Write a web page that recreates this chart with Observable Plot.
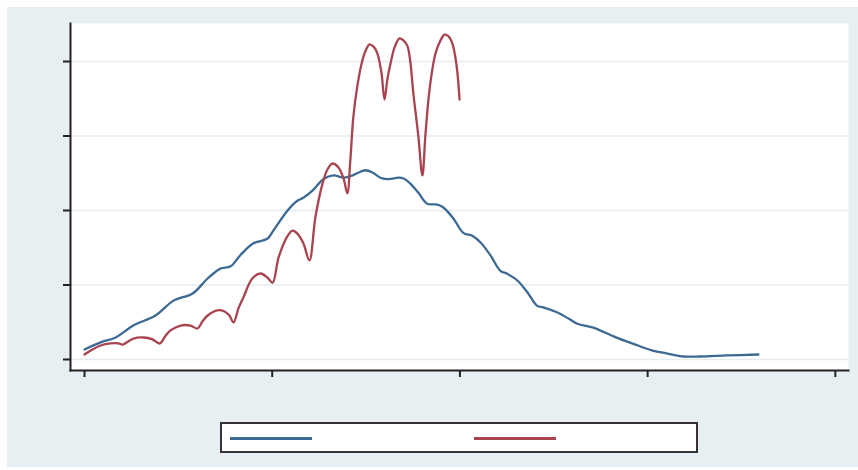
<!DOCTYPE html>
<html>
<head>
<meta charset="utf-8">
<script src="https://cdn.jsdelivr.net/npm/d3@7"></script>
<script src="https://cdn.jsdelivr.net/npm/@observablehq/plot@0.6"></script>
<style>
  html, body { margin: 0; padding: 0; background: #ffffff; font-family: "DejaVu Sans", sans-serif; }
  #page { position: relative; width: 858px; height: 470px; overflow: hidden; }
  #bg { position: absolute; left: 7px; top: 7px; width: 851px; height: 460px; background: #e8eff2; }
  #chart { position: absolute; left: 0; top: 0; }
  #legend { position: absolute; left: 220px; top: 422px; width: 478px; height: 31px; box-sizing: border-box;
            border: 2px solid #333; background: #ffffff; }
  .sw { position: absolute; top: 13px; height: 2.5px; width: 82px; }
</style>
</head>
<body>
<div id="page">
  <div id="bg"></div>
  <div id="chart"></div>
  <div id="legend">
    <div class="sw" style="left:8px; background:#3d6a93"></div>
    <div class="sw" style="left:252px; background:#a8434f"></div>
  </div>
</div>
<script>
// Series 1 (blue)
const blueX = [0, 4.3, 8.3, 13.0, 18.9, 23.7, 28.8, 32.8, 36.2, 38.9, 41.5, 45.0, 48.7, 50.3, 54.1, 56.7, 58.3, 61.0, 63.6, 66.3,
  69.0, 70.8, 73.5, 74.8, 76.7, 78.8, 81.0, 83.6, 85.0, 86.8, 88.9, 91.3, 94.0, 95.6, 98.3, 100.9, 103.3, 105.5, 108.1, 110.8,
  112.6, 115.3, 118.0, 120.6, 122.2, 126.0, 128.9, 131.3, 135.3, 141.4, 146.2, 151.3, 155.3, 159.5, 164.0, 171.2, 179.5];
const blueY = [0.134, 0.23, 0.295, 0.456, 0.59, 0.79, 0.886, 1.087, 1.22, 1.25, 1.40, 1.56, 1.62, 1.73, 2.0, 2.13, 2.17, 2.28, 2.42, 2.47,
  2.44, 2.46, 2.52, 2.54, 2.51, 2.44, 2.42, 2.44, 2.43, 2.36, 2.24, 2.09, 2.08, 2.04, 1.89, 1.70, 1.66, 1.57, 1.40, 1.19,
  1.15, 1.06, 0.90, 0.72, 0.70, 0.63, 0.55, 0.48, 0.43, 0.30, 0.21, 0.12, 0.08, 0.04, 0.04, 0.054, 0.067];

// Series 2 (red)
const redX = [0, 2.1, 4.3, 6.9, 9.1, 10.1, 13.0, 15.7, 18.1, 20.0, 21.6, 22.9, 25.6, 28.2, 30.1, 31.4, 32.8, 35.4, 37.3, 38.6,
  39.7, 41.0, 42.3, 44.7, 46.9, 48.7, 50.1, 51.7, 54.1, 55.4, 56.7, 58.3, 59.9, 61.5, 63.4, 64.7, 66.0, 67.6, 69.0, 70.0,
  70.8, 71.6, 72.7, 74.0, 75.1, 75.9, 77.0, 78.0, 79.1, 79.9, 80.7, 81.5, 82.6, 83.9, 85.0, 86.0, 86.8, 87.6, 88.9, 90.0,
  90.8, 91.6, 92.4, 93.5, 94.8, 95.9, 96.9, 98.0, 99.1, 99.9];
const redY = [0.067, 0.134, 0.188, 0.215, 0.215, 0.20, 0.28, 0.295, 0.27, 0.215, 0.32, 0.39, 0.456, 0.456, 0.416, 0.51, 0.59, 0.66, 0.644, 0.59,
  0.497, 0.685, 0.83, 1.087, 1.154, 1.10, 1.03, 1.37, 1.66, 1.73, 1.69, 1.56, 1.33, 1.91, 2.36, 2.55, 2.63, 2.58, 2.43, 2.23,
  2.67, 3.25, 3.68, 4.01, 4.17, 4.23, 4.20, 4.11, 3.85, 3.49, 3.77, 3.97, 4.19, 4.31, 4.28, 4.21, 3.99, 3.57, 3.01, 2.47,
  3.01, 3.48, 3.81, 4.11, 4.28, 4.36, 4.34, 4.24, 3.95, 3.49];

const yTicks = [0, 1, 2, 3, 4];
const xTicks = [0, 50, 100, 150, 200];

const blue = blueX.map((x, i) => ({x, y: blueY[i]}));
const red = redX.map((x, i) => ({x, y: redY[i]}));

const chart = Plot.plot({
  width: 858,
  height: 400,
  marginLeft: 70,
  marginRight: 10,
  marginTop: 23,
  marginBottom: 30,
  style: {background: "transparent", overflow: "visible"},
  x: {domain: [-3.73, 203.5], axis: null},
  y: {domain: [-0.148, 4.51], axis: null},
  marks: [
    Plot.frame({fill: "#ffffff", stroke: "none"}),
    Plot.gridY(yTicks, {stroke: "#e3ecef", strokeOpacity: 1, strokeWidth: 1.5}),
    Plot.line(blue, {x: "x", y: "y", stroke: "#3d6a93", strokeWidth: 2.3, curve: "catmull-rom"}),
    Plot.line(red, {x: "x", y: "y", stroke: "#a8434f", strokeWidth: 2.3, curve: "catmull-rom"}),
    Plot.frame({anchor: "left", stroke: "#222", strokeWidth: 2}),
    Plot.frame({anchor: "bottom", stroke: "#222", strokeWidth: 2}),
    Plot.axisY(yTicks, {tickFormat: () => "", tickSize: 7, stroke: "#222", strokeWidth: 2, label: null}),
    Plot.axisX(xTicks, {tickFormat: () => "", tickSize: 7, stroke: "#222", strokeWidth: 2, label: null})
  ]
});
document.getElementById("chart").appendChild(chart);
</script>
</body>
</html>
